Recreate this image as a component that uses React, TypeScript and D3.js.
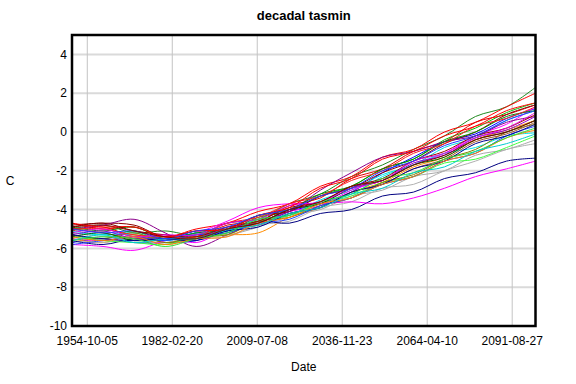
import React from "react";
import * as d3 from "d3";

// x positions of the decadal samples
const dates = [
  "1949-11-01", "1959-11-01", "1969-11-01", "1979-11-01", "1989-11-01",
  "1999-11-01", "2009-11-01", "2019-11-01", "2029-11-01", "2039-11-01",
  "2049-11-01", "2059-11-01", "2069-11-01", "2079-11-01", "2089-11-01",
  "2099-03-01",
];

const xTickLabels = ["1954-10-05", "1982-02-20", "2009-07-08", "2036-11-23", "2064-04-10", "2091-08-27"];
const yTicks = [-10, -8, -6, -4, -2, 0, 2, 4];

const seriesColors = [
  "#228b22", "#ff0000", "#00c000", "#e00000", "#0000ff", "#00dede", "#ff00ff", "#8b0000",
  "#8b008b", "#ff8c00", "#a8a8a8", "#b0b0b0", "#000080", "#ff00ff", "#40ff40", "#00e8e8",
  "#808000", "#a0522d", "#009000", "#ff2020", "#2040ff", "#9400d3", "#a00000", "#006400",
  "#000090", "#e000e0", "#ff8000", "#30e030", "#ff0000", "#00cccc", "#1e3cff", "#800000",
];

const s01 = [-5.0, -4.8, -5.2, -5.1, -5.3, -4.7, -4.5, -3.7, -3.2, -2.3, -1.7, -0.9, -0.2, 0.8, 1.3, 2.3];
const s02 = [-4.7, -5.0, -4.9, -5.4, -5.0, -4.7, -4.1, -3.7, -2.8, -2.3, -1.3, -0.9, 0.0, 0.5, 1.3, 2.0];
const s03 = [-5.3, -5.5, -5.1, -5.7, -5.3, -5.1, -4.4, -4.1, -3.3, -2.8, -1.9, -1.4, -0.4, 0.2, 1.0, 1.5];
const s04 = [-5.1, -4.9, -5.4, -5.4, -5.4, -4.8, -4.6, -3.8, -3.4, -2.4, -1.9, -1.0, -0.5, 0.5, 0.9, 1.4];
const s05 = [-5.7, -5.5, -5.7, -5.7, -5.6, -5.0, -4.8, -4.1, -3.7, -3.1, -2.1, -1.3, -0.5, -0.1, 0.7, 1.2];
const s06 = [-5.2, -5.3, -5.3, -5.6, -5.2, -5.1, -4.5, -4.3, -3.5, -3.0, -2.2, -1.7, -0.8, -0.3, 0.6, 1.1];
const s07 = [-5.5, -5.6, -5.4, -5.3, -5.7, -5.0, -4.7, -4.1, -3.8, -3.0, -2.5, -1.7, -1.1, -0.2, 0.4, 1.3];
const s08 = [-4.8, -4.7, -4.8, -5.4, -5.1, -5.0, -4.3, -4.1, -3.3, -2.9, -2.1, -1.5, -0.6, 0.0, 0.9, 1.4];
const s09 = [-5.0, -4.8, -4.5, -5.2, -5.9, -5.3, -4.6, -4.1, -3.0, -2.1, -1.3, -1.0, -0.5, -0.2, 0.5, 0.8];
const s10 = [-5.5, -5.7, -5.3, -5.7, -5.4, -5.3, -5.2, -4.4, -3.9, -3.1, -2.6, -1.8, -1.3, -0.4, 0.1, 0.6];
const s11 = [-5.2, -5.4, -5.5, -5.7, -5.3, -5.3, -4.9, -4.3, -4.0, -3.3, -3.0, -2.3, -2.0, -1.2, -0.9, -0.4];
const s12 = [-5.6, -5.7, -5.5, -5.8, -5.5, -5.4, -4.8, -4.6, -3.9, -3.6, -2.9, -2.7, -2.0, -1.5, -0.9, -0.6];
const s13 = [-5.6, -5.8, -5.5, -5.6, -5.2, -5.1, -4.6, -4.7, -4.2, -4.0, -3.3, -3.1, -2.4, -2.1, -1.5, -1.35];
const s14 = [-5.8, -5.9, -6.1, -5.6, -5.2, -4.6, -3.9, -3.7, -3.7, -3.6, -3.7, -3.4, -2.9, -2.3, -1.9, -1.5];
const s15 = [-5.4, -5.6, -5.7, -5.8, -5.4, -5.2, -4.6, -4.3, -3.7, -3.3, -2.6, -2.3, -1.6, -1.4, -0.8, -0.2];
const s16 = [-5.1, -5.3, -5.2, -5.6, -5.2, -5.1, -4.5, -4.3, -3.6, -3.2, -2.3, -1.7, -1.1, -0.8, -0.2, -0.05];
const s17 = [-5.3, -5.5, -5.2, -5.7, -5.4, -5.3, -4.6, -4.4, -3.8, -3.4, -2.6, -2.2, -1.4, -0.9, 0.0, 0.4];
const s18 = [-5.0, -5.2, -5.5, -5.4, -5.5, -5.0, -4.8, -4.2, -3.9, -3.1, -2.7, -1.9, -1.4, -0.5, -0.1, 0.5];
const s19 = [-4.9, -5.1, -4.9, -5.5, -5.2, -5.0, -4.3, -4.0, -3.2, -2.8, -1.9, -1.4, -0.5, 0.0, 0.8, 1.1];
const s20 = [-5.0, -5.0, -5.3, -5.4, -5.4, -4.7, -4.4, -3.7, -3.3, -2.5, -2.0, -1.1, -0.6, 0.3, 0.7, 1.3];
const s21 = [-5.8, -5.6, -5.4, -5.6, -5.3, -5.2, -4.7, -4.5, -3.8, -3.4, -2.7, -2.3, -1.5, -1.1, -0.2, 0.3];
const s22 = [-5.3, -5.1, -5.5, -5.5, -5.5, -4.9, -4.7, -4.0, -3.7, -2.9, -2.5, -1.6, -1.2, -0.3, 0.1, 0.8];
const s23 = [-4.9, -4.8, -5.1, -5.3, -5.4, -4.9, -4.6, -3.9, -3.6, -2.8, -2.4, -1.5, -1.0, -0.2, 0.2, 0.9];
const s24 = [-5.4, -5.2, -5.6, -5.5, -5.5, -5.0, -4.7, -4.0, -3.7, -2.9, -2.5, -1.7, -1.3, -0.4, 0.0, 0.6];
const s25 = [-5.3, -5.5, -5.6, -5.5, -5.6, -5.1, -4.9, -4.2, -3.9, -3.1, -2.7, -1.9, -1.5, -0.6, -0.2, 0.4];
const s26 = [-5.2, -5.0, -5.4, -5.3, -5.3, -4.7, -4.5, -3.8, -3.6, -2.9, -2.5, -1.5, -1.1, -0.3, 0.2, 1.0];
const s27 = [-5.4, -5.6, -5.4, -5.8, -5.5, -5.4, -4.7, -4.4, -3.7, -3.4, -2.7, -2.3, -1.5, -1.1, -0.3, 0.1];
const s28 = [-5.6, -5.4, -5.5, -5.9, -5.5, -5.2, -4.5, -4.3, -3.6, -3.2, -2.4, -2.1, -1.4, -1.0, -0.3, 0.2];
const s29 = [-4.7, -4.9, -4.9, -5.4, -5.1, -5.0, -4.3, -3.9, -2.9, -2.4, -1.4, -1.0, -0.2, 0.3, 1.1, 1.5];
const s30 = [-5.6, -5.3, -5.7, -5.5, -5.5, -5.0, -4.8, -4.2, -3.9, -3.2, -2.9, -2.1, -1.8, -1.0, -0.6, -0.1];
const s31 = [-5.0, -5.2, -5.1, -5.5, -5.1, -4.9, -4.3, -4.0, -3.3, -2.9, -2.0, -1.5, -0.7, -0.2, 0.6, 1.1];
const s32 = [-4.9, -4.7, -5.1, -5.4, -5.5, -5.0, -4.7, -4.0, -3.6, -2.8, -2.5, -1.7, -1.2, -0.4, 0.0, 0.6];

const allSeries = [
  s01, s02, s03, s04, s05, s06, s07, s08, s09, s10, s11, s12, s13, s14, s15, s16,
  s17, s18, s19, s20, s21, s22, s23, s24, s25, s26, s27, s28, s29, s30, s31, s32,
];

const W = 576;
const H = 384;
const left = 72;
const right = 535.5;
const top = 35;
const bottom = 326;
const FONT = "'Liberation Sans', Arial, sans-serif";

export default function App() {
  const parse = d3.utcParse("%Y-%m-%d");
  const xDates = dates.map((d) => parse(d) as Date);
  const x = d3.scaleUtc().domain(d3.extent(xDates) as [Date, Date]).range([left, right]);
  const y = d3.scaleLinear().domain([-10, 5]).range([bottom, top]);
  const line = d3
    .line<number>()
    .x((_, i) => x(xDates[i]))
    .y((v) => y(v))
    .curve(d3.curveCatmullRom.alpha(0.5));
  const xTicks = xTickLabels.map((d) => ({ label: d, date: parse(d) as Date }));

  return (
    <svg width={W} height={H} style={{ position: "absolute", left: 0, top: 0, background: "#fff" }}>
      <defs>
        <clipPath id="plotClip">
          <rect x={left} y={top} width={right - left} height={bottom - top} />
        </clipPath>
      </defs>
      <rect x={0} y={0} width={W} height={H} fill="#fff" />
      {/* grid */}
      {yTicks.map((t) => (
        <line key={"hy" + t} x1={left} x2={right} y1={y(t)} y2={y(t)} stroke="#dadada" strokeWidth={2} />
      ))}
      {xTicks.map((t) => (
        <line key={"vx" + t.label} x1={x(t.date)} x2={x(t.date)} y1={top} y2={bottom} stroke="#c4c4c4" strokeWidth={1} />
      ))}
      {/* series */}
      <g clipPath="url(#plotClip)">
        {allSeries.map((s, i) => (
          <path key={i} d={line(s) || ""} fill="none" stroke={seriesColors[i % seriesColors.length]} strokeWidth={1} />
        ))}
      </g>
      {/* frame */}
      <rect x={left} y={top} width={right - left} height={bottom - top} fill="none" stroke="#000" strokeWidth={2.5} />
      {/* y tick labels */}
      {yTicks.map((t) => (
        <text key={"ty" + t} x={67} y={y(t)} dy="0.35em" textAnchor="end" fontFamily={FONT} fontSize={12} fill="#000">
          {t}
        </text>
      ))}
      {/* x tick labels */}
      {xTicks.map((t) => (
        <text key={"tx" + t.label} x={x(t.date)} y={345} textAnchor="middle" fontFamily={FONT} fontSize={12} fill="#000">
          {t.label}
        </text>
      ))}
      <text x={(left + right) / 2} y={20} textAnchor="middle" fontFamily={FONT} fontSize={13} fontWeight="bold" fill="#000">
        decadal tasmin
      </text>
      <text x={(left + right) / 2} y={371} textAnchor="middle" fontFamily={FONT} fontSize={12} fill="#000">
        Date
      </text>
      <text x={10} y={181} dy="0.35em" textAnchor="middle" fontFamily={FONT} fontSize={12} fill="#000">
        C
      </text>
    </svg>
  );
}
